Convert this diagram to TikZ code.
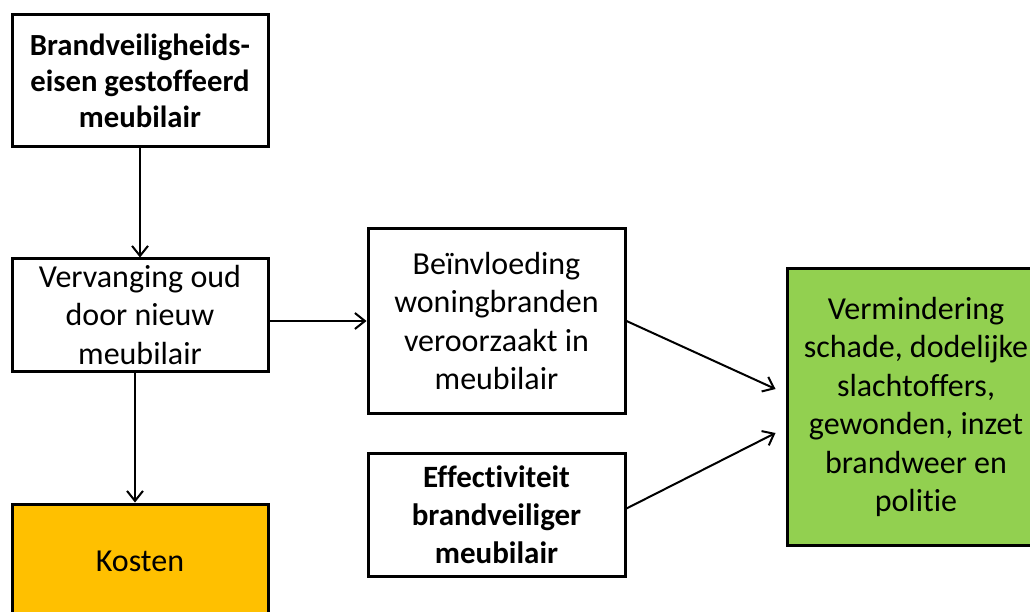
\documentclass[tikz,border=0pt]{standalone}
\usepackage{fontspec}
\setmainfont[Ligatures={NoCommon}]{Carlito}
\usetikzlibrary{arrows.meta,calc}
\definecolor{kgreen}{HTML}{92D050}
\definecolor{korange}{HTML}{FFC000}
\begin{document}
\begin{tikzpicture}[x=1pt,y=-1pt,
  box/.style={draw=black, line width=3pt, rectangle, align=center, inner sep=0pt,
    font=\fontsize{32}{38.5}\selectfont},
  conn/.style={line width=2pt, -{Straight Barb[length=10pt,width=16pt,line width=2pt]}}]
\useasboundingbox (0,0) rectangle (1030,612);
\fill[white] (0,0) rectangle (1030,612);
\node[box, minimum width=256pt, minimum height=132pt, font=\fontsize{30.7}{36}\selectfont\bfseries] (eisen) at (140,81)
  {Brandveiligheids-\\eisen gestoffeerd\\meubilair};
\node[box, minimum width=256pt, minimum height=112pt] (verv) at (140,315)
  {Vervanging oud\\door nieuw\\meubilair};
\node[box, fill=korange, minimum width=256pt, minimum height=114pt] (kosten) at (140,561)
  {Kosten};
\node[box, minimum width=257pt, minimum height=184pt] (bein) at (496.5,321)
  {Beïnvloeding\\woningbranden\\veroorzaakt in\\meubilair};
\node[box, minimum width=257pt, minimum height=123pt, font=\fontsize{31}{38}\selectfont\bfseries] (eff) at (496.5,514.5)
  {Effectiviteit\\brandveiliger\\meubilair};
\node[box, fill=kgreen, minimum width=258pt, minimum height=276pt] (verm) at (916,407)
  {Vermindering\\schade, dodelijke\\slachtoffers,\\gewonden, inzet\\brandweer en\\politie};
\draw[conn] (eisen.south) -- (verv.north);
\draw[conn] ($(verv.south)+(-5,0)$) -- ($(kosten.north)+(-5,0)$);
\draw[conn] (verv.east |- bein.west) -- (bein.west);
\coordinate (t1) at ($(verm.west)+(-10,-18)$);
\coordinate (t2) at ($(verm.west)+(-10,26)$);
\draw[conn] (bein.east) -- (t1);
\draw[conn] ($(eff.east)+(0,-6)$) -- (t2);
\end{tikzpicture}
\end{document}
